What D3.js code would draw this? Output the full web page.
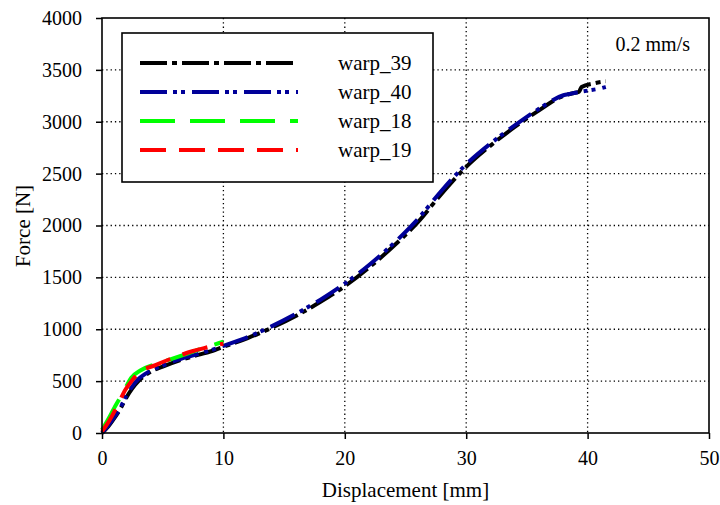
<!DOCTYPE html>
<html lang="en">
<head>
    <meta charset="UTF-8">
    <title>Force vs Displacement</title>
    <script src="https://d3js.org/d3.v7.min.js"></script>
    <style>
        body { margin: 0; background: #fff; }
        .grid line { stroke: #000; stroke-width: 1.3; stroke-dasharray: 1.3 3; }
    </style>
</head>
<body>
<svg width="720" height="505"></svg>
<script>
    // data
    const seriesNames = ["warp_39", "warp_40", "warp_18", "warp_19"];

    const disp39 = [0, 0.5, 1.0, 1.5, 2.0, 2.5, 3.0, 3.5, 4.0, 5.0, 6.5, 8.0, 9.3, 10, 12, 14, 16, 18, 20, 22, 24, 26, 28, 30, 32, 34, 36, 38, 38.8, 39.3, 39.5, 40.5, 41.5];
    const force39 = [0, 60, 140, 230, 340, 430, 500, 550, 590, 640, 705, 755, 800, 830, 915, 1015, 1130, 1265, 1415, 1595, 1800, 2030, 2310, 2565, 2770, 2950, 3110, 3250, 3275, 3290, 3335, 3370, 3390];

    const disp40 = [0, 0.5, 1.0, 1.5, 2.0, 2.5, 3.0, 3.5, 4.0, 5.0, 6.5, 8.0, 9.3, 10, 12, 14, 16, 18, 20, 22, 24, 26, 28, 30, 32, 34, 36, 38, 38.6, 39, 40, 41, 41.5];
    const force40 = [0, 70, 150, 240, 360, 450, 520, 565, 600, 650, 715, 765, 810, 840, 925, 1030, 1150, 1285, 1440, 1620, 1825, 2060, 2340, 2590, 2790, 2965, 3125, 3255, 3270, 3280, 3300, 3320, 3335];

    const disp18 = [0, 0.5, 1.0, 1.57, 2.0, 2.4, 3.2, 4.4, 5.5, 7.1, 8.5, 9.6, 10];
    const force18 = [30, 130, 240, 356, 450, 530, 605, 663, 705, 768, 825, 865, 880];

    const disp19 = [0, 0.5, 1.3, 1.9, 2.5, 3.0, 4.4, 6.0, 7.5, 8.7, 9.5, 10];
    const force19 = [15, 100, 270, 413, 510, 577, 654, 730, 790, 827, 850, 860];

    const xTicks = [0, 10, 20, 30, 40, 50];
    const yTicks = [0, 500, 1000, 1500, 2000, 2500, 3000, 3500, 4000];

    const serif = "'Liberation Serif', 'Times New Roman', Times, 'DejaVu Serif', serif";

    const svg = d3.select("svg");
    const plotLeft = 102, plotRight = 709, plotTop = 18, plotBottom = 433;

    const x = d3.scaleLinear().domain([0, 50]).range([plotLeft, plotRight]);
    const y = d3.scaleLinear().domain([0, 4000]).range([plotBottom, plotTop]);

    // dotted grid
    const grid = svg.append("g").attr("class", "grid");
    grid.selectAll(".gx").data(xTicks.slice(1, -1)).enter().append("line")
        .attr("x1", d => x(d)).attr("x2", d => x(d))
        .attr("y1", plotTop).attr("y2", plotBottom);
    grid.selectAll(".gy").data(yTicks.slice(1, -1)).enter().append("line")
        .attr("x1", plotLeft).attr("x2", plotRight)
        .attr("y1", d => y(d)).attr("y2", d => y(d));

    // axes
    const xAxis = svg.append("g").attr("transform", `translate(0,${plotBottom})`)
        .call(d3.axisBottom(x).tickValues(xTicks).tickFormat(d3.format("d")).tickSize(6).tickPadding(12));
    const yAxis = svg.append("g").attr("transform", `translate(${plotLeft},0)`)
        .call(d3.axisLeft(y).tickValues(yTicks).tickFormat(d3.format("d")).tickSize(6).tickPadding(14));
    [xAxis, yAxis].forEach(a => {
        a.attr("font-family", serif).attr("font-size", 20);
        a.select(".domain").remove();
        a.selectAll("line").attr("stroke", "#000").attr("stroke-width", 1.5);
        a.selectAll("text").attr("fill", "#000");
    });

    // series
    const series = [
        { name: seriesNames[0], d: disp39, f: force39, color: "#000000", dash: "27 5 5 5" },
        { name: seriesNames[1], d: disp40, f: force40, color: "#000099", dash: "27 6 4 4 4 7" },
        { name: seriesNames[2], d: disp18, f: force18, color: "#00ff00", dash: "35 15" },
        { name: seriesNames[3], d: disp19, f: force19, color: "#ff0000", dash: "26 13" }
    ];

    const line = d3.line().x(p => x(p[0])).y(p => y(p[1])).curve(d3.curveMonotoneX);

    series.forEach(s => {
        svg.append("path")
            .datum(s.d.map((v, i) => [v, s.f[i]]))
            .attr("fill", "none")
            .attr("stroke", s.color)
            .attr("stroke-width", 4)
            .attr("stroke-dasharray", s.dash)
            .attr("d", line);
    });

    // frame
    svg.append("rect")
        .attr("x", plotLeft).attr("y", plotTop)
        .attr("width", plotRight - plotLeft).attr("height", plotBottom - plotTop)
        .attr("fill", "none").attr("stroke", "#000").attr("stroke-width", 1.6);

    // legend
    const lg = svg.append("g").attr("font-family", serif).attr("font-size", 21);
    lg.append("rect")
        .attr("x", 122).attr("y", 33).attr("width", 311).attr("height", 149)
        .attr("fill", "#fff").attr("stroke", "#000").attr("stroke-width", 1.6);
    series.forEach((s, i) => {
        const ly = 63 + i * 29;
        lg.append("line")
            .attr("x1", 140).attr("x2", 298).attr("y1", ly).attr("y2", ly)
            .attr("stroke", s.color).attr("stroke-width", 4)
            .attr("stroke-dasharray", s.dash);
        lg.append("text")
            .attr("x", 338).attr("y", ly + 7)
            .text(s.name);
    });

    svg.append("text")
        .attr("x", 690).attr("y", 51)
        .attr("text-anchor", "end")
        .attr("font-family", serif).attr("font-size", 20)
        .text("0.2 mm/s");

    svg.append("text")
        .attr("x", (plotLeft + plotRight) / 2).attr("y", 497)
        .attr("text-anchor", "middle")
        .attr("font-family", serif).attr("font-size", 21)
        .text("Displacement [mm]");

    svg.append("text")
        .attr("transform", "translate(30,226) rotate(-90)")
        .attr("text-anchor", "middle")
        .attr("font-family", serif).attr("font-size", 21)
        .text("Force [N]");
</script>
</body>
</html>
